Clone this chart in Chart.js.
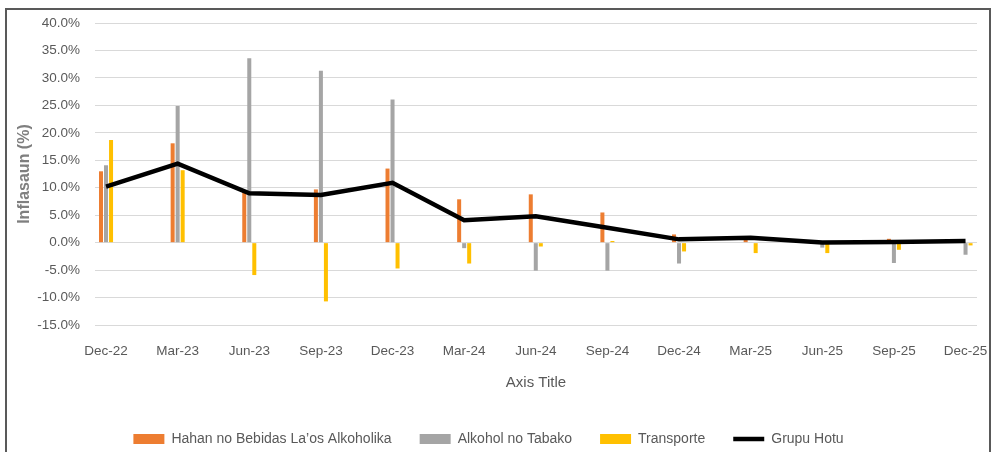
<!DOCTYPE html>
<html>
<head>
<meta charset="utf-8">
<script src="https://cdn.jsdelivr.net/npm/chart.js@4/dist/chart.umd.min.js"></script>
<style>
  html, body { margin: 0; padding: 0; background: #fff; }
  #wrap { position: relative; width: 993px; height: 452px; overflow: hidden; }
  #frame { position: absolute; left: 5px; top: 8px; width: 986px; height: 460px; border: 2px solid #595959; box-sizing: border-box; pointer-events: none; }
  canvas { position: absolute; left: 0; top: 0; }
</style>
</head>
<body>
<div id="wrap">
  <canvas id="c" width="993" height="452"></canvas>
  <div id="frame"></div>
</div>
<script>
const categories = ["Dec-22","Mar-23","Jun-23","Sep-23","Dec-23","Mar-24","Jun-24","Sep-24","Dec-24","Mar-25","Jun-25","Sep-25","Dec-25"];
const hahan      = [13.0, 18.1, 9.4, 9.7, 13.5, 7.9, 8.8, 5.5, 1.5, 0.5, -0.1, 0.7, 0.1];
const alkohol    = [14.1, 24.9, 33.6, 31.3, 26.1, -1.0, -5.1, -5.1, -3.8, 0.1, -0.9, -3.7, -2.2];
const transporte = [18.7, 13.2, -5.9, -10.7, -4.7, -3.8, -0.7, 0.3, -1.6, -1.9, -1.9, -1.3, -0.5];
const grupuHotu  = [10.2, 14.4, 9.0, 8.7, 10.9, 4.1, 4.8, 2.7, 0.6, 0.9, 0.05, 0.1, 0.3];
const yTicks = [-15, -10, -5, 0, 5, 10, 15, 20, 25, 30, 35, 40];

const toXY = arr => arr.map((v, i) => ({ x: i, y: v }));
const FONT = "'Liberation Sans', Arial, sans-serif";

new Chart(document.getElementById('c'), {
  data: {
    datasets: [
      { type: 'bar', label: 'Hahan no Bebidas La\u2019os Alkoholika', data: toXY(hahan), backgroundColor: '#ED7D31', categoryPercentage: 0.21, barPercentage: 0.8, pointStyle: 'rect', order: 2 },
      { type: 'bar', label: 'Alkohol no Tabako', data: toXY(alkohol), backgroundColor: '#A5A5A5', categoryPercentage: 0.21, barPercentage: 0.8, pointStyle: 'rect', order: 2 },
      { type: 'bar', label: 'Transporte', data: toXY(transporte), backgroundColor: '#FFC000', categoryPercentage: 0.21, barPercentage: 0.8, pointStyle: 'rect', order: 2 },
      { type: 'line', label: 'Grupu Hotu', data: toXY(grupuHotu), borderColor: '#000000', backgroundColor: '#000000', borderWidth: 4.5, pointRadius: 0, pointStyle: 'line', tension: 0, order: 1 }
    ]
  },
  options: {
    responsive: false,
    animation: false,
    events: [],
    layout: { padding: { left: 0, right: 16, top: 21, bottom: -4 } },
    scales: {
      x: {
        type: 'linear',
        offset: false,
        min: -0.154,
        max: 12.16,
        grid: { display: false, drawTicks: false, offset: false },
        border: { display: false },
        afterBuildTicks: s => { s.ticks = categories.map((c, i) => ({ value: i })); },
        afterFit: s => { s.height = 79; s.paddingLeft = 0; s.paddingRight = 0; },
        ticks: {
          autoSkip: false, maxRotation: 0, padding: 18,
          color: '#595959', font: { family: FONT, size: 13.5 },
          callback: v => categories[v]
        },
        title: { display: true, text: 'Axis Title', color: '#595959', font: { family: FONT, size: 15 }, padding: { top: 4, bottom: 12 } }
      },
      y: {
        min: -15, max: 40,
        afterBuildTicks: s => { s.ticks = yTicks.map(v => ({ value: v })); },
        afterFit: s => { s.width = 95; },
        grid: { color: '#D9D9D9', lineWidth: 1, drawTicks: false },
        border: { display: false },
        ticks: { padding: 15, color: '#595959', font: { family: FONT, size: 13.5 }, callback: v => v.toFixed(1) + '%' },
        title: { display: true, text: 'Inflasaun (%)', color: '#7F7F7F', font: { family: FONT, size: 16, weight: 'bold' }, padding: { top: 15, bottom: 0 } }
      }
    },
    plugins: {
      tooltip: { enabled: false },
      legend: {
        position: 'bottom',
        labels: {
          usePointStyle: true,
          pointStyleWidth: 31,
          boxHeight: 10,
          padding: 28,
          color: '#595959',
          font: { family: FONT, size: 14 },
          sort: (a, b) => a.datasetIndex - b.datasetIndex
        }
      }
    }
  }
});
</script>
</body>
</html>
